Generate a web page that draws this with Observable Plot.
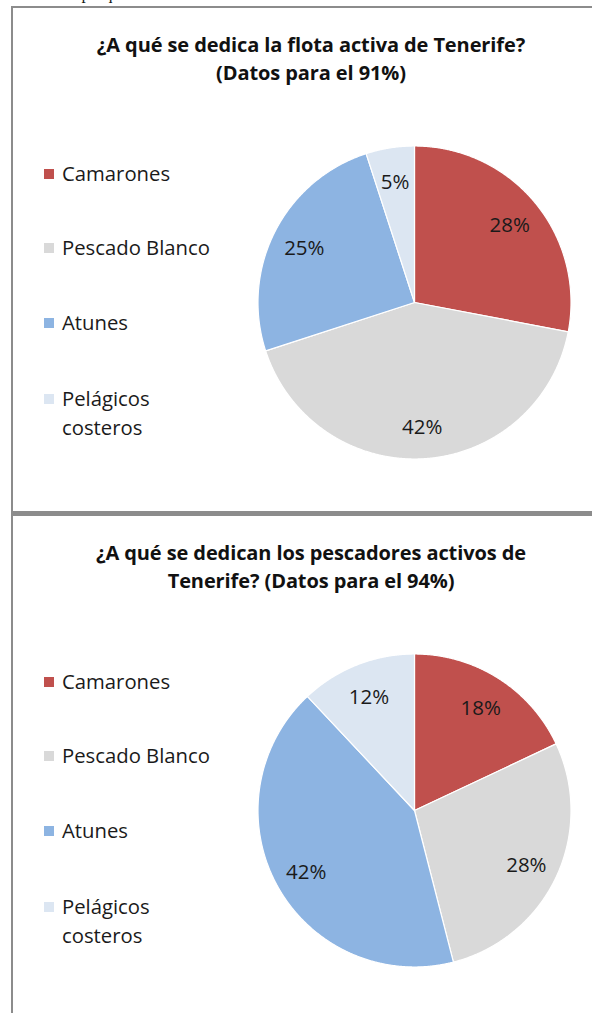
<!DOCTYPE html>
<html>
<head>
<meta charset="utf-8">
<script src="https://cdn.jsdelivr.net/npm/d3@7"></script>
<script src="https://cdn.jsdelivr.net/npm/@observablehq/plot@0.6"></script>
<style>
  html, body { margin: 0; padding: 0; background: #fff; }
  body { width: 592px; height: 1013px; position: relative; overflow: hidden; font-family: "Open Sans", sans-serif; color: #1a1a1a; }
  .abs { position: absolute; }
  .title { font-weight: bold; font-size: 20px; text-align: center; width: 600px; line-height: 28px; color: #111; white-space: nowrap; letter-spacing: -0.1px; }
  .leg { font-size: 20.3px; line-height: 29px; color: #1a1a1a; white-space: nowrap; }
  .sw { width: 10px; height: 10px; }
  .topline { font-family: "Liberation Serif", serif; font-size: 17px; white-space: nowrap; }
</style>
</head>
<body>
<script>
// ---- data ----
const categories = ["Camarones", "Pescado Blanco", "Atunes", "Pelágicos costeros"];
const legendLines = [["Camarones"], ["Pescado Blanco"], ["Atunes"], ["Pelágicos", "costeros"]];
const colors = ["#C0504D", "#D9D9D9", "#8DB4E2", "#DCE6F2"];
const flotaValues = [28, 42, 25, 5];
const pescadoresValues = [18, 28, 42, 12];
const flotaTitle = ["¿A qué se dedica la flota activa de Tenerife?", "(Datos para el 91%)"];
const pescadoresTitle = ["¿A qué se dedican los pescadores activos de", "Tenerife? (Datos para el 94%)"];
const topText = "Actividades pesqueras en Tenerife";

const body = document.body;
function el(cls, style, html) {
  const d = document.createElement("div");
  d.className = "abs " + cls;
  Object.assign(d.style, style);
  if (html != null) d.innerHTML = html;
  body.appendChild(d);
  return d;
}

// clipped text line at the very top (only its lowest part shows, as in the source page)
el("topline", {left: "-4px", top: "-16px"}, topText);

// frame lines
const frameColor = "#8c8c8c";
el("", {left: "11px", top: "6px", width: "2px", height: "1013px", background: frameColor});
el("", {left: "11px", top: "6px", width: "600px", height: "2px", background: frameColor});
el("", {left: "11px", top: "511px", width: "600px", height: "5px", background: frameColor});

function panel(offsetY, titleLines, values) {
  // title
  el("title", {left: "11px", top: (offsetY + 31) + "px"}, titleLines.join("<br>"));
  // legend
  const legY = [174, 248, 323, 399];
  legendLines.forEach((lines, i) => {
    const cy = offsetY + legY[i];
    el("sw", {left: "44px", top: (cy - 5) + "px", background: colors[i]});
    el("leg", {left: "62px", top: (cy - 15) + "px"}, lines.join("<br>"));
  });

  // pie: d3.pie angles -> slice outlines drawn with Plot marks on x/y scales
  const arcs = d3.pie().sort(null).value(d => d.value)(
    categories.map((c, i) => ({category: c, value: values[i]}))
  );
  const pts = [];
  const labels = [];
  arcs.forEach(a => {
    const c = a.data.category;
    pts.push({category: c, x: 0, y: 0});
    const n = Math.max(2, Math.ceil((a.endAngle - a.startAngle) / 0.005));
    for (let k = 0; k <= n; k++) {
      const t = a.startAngle + (a.endAngle - a.startAngle) * k / n;
      pts.push({category: c, x: Math.sin(t), y: Math.cos(t)});
    }
    pts.push({category: c, x: 0, y: 0});
    const m = (a.startAngle + a.endAngle) / 2;
    labels.push({x: 0.79 * Math.sin(m), y: 0.79 * Math.cos(m), text: a.data.value + "%"});
  });

  const size = 330, R = 156.5;
  const half = size / 2 / R;
  const chart = Plot.plot({
    width: size, height: size, margin: 0,
    x: {domain: [-half, half], axis: null},
    y: {domain: [-half, half], axis: null},
    color: {domain: categories, range: colors},
    style: {background: "transparent", overflow: "visible"},
    marks: [
      Plot.line(pts, {x: "x", y: "y", z: "category", fill: "category", stroke: "white", strokeWidth: 1.2, strokeLinejoin: "round"}),
      Plot.text(labels, {x: "x", y: "y", text: "text", fontSize: 20.5, dy: 2, fill: "#1a1a1a", fontFamily: "'Open Sans', sans-serif"})
    ]
  });
  chart.style.position = "absolute";
  chart.style.left = (413.5 - size / 2) + "px";
  chart.style.top = (offsetY + 301.5 - size / 2) + "px";
  body.appendChild(chart);
}

panel(0, flotaTitle, flotaValues);
panel(508, pescadoresTitle, pescadoresValues);
</script>
</body>
</html>
